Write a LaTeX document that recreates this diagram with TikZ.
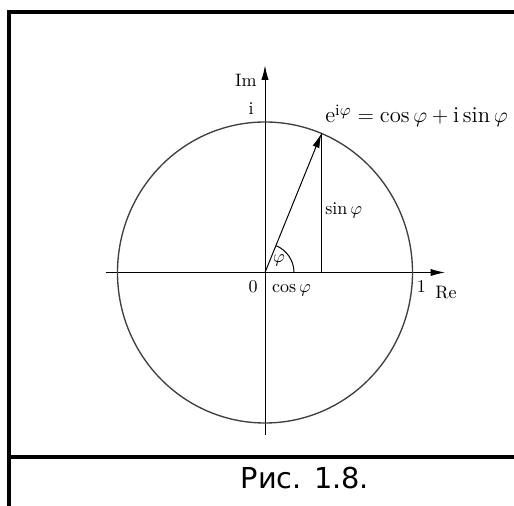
\documentclass[tikz,border=0pt]{standalone}
\usepackage{fontspec}
\newfontfamily\capfont{DejaVu Sans}
\usetikzlibrary{arrows.meta, positioning, calc}

\begin{document}
\begin{tikzpicture}[
    x=0.5556pt, y=0.5556pt,
    axis/.style={-{Latex[length=8pt, width=4pt]}, line width=0.55pt},
    vec/.style={-{Latex[length=8pt, width=4pt]}, line width=0.55pt},
    unitcircle/.style={draw=black!75, line width=0.75pt},
    frameline/.style={line width=1.7pt},
    lbl/.style={inner sep=0pt}
]
\useasboundingbox (-265,-233.5) rectangle (249,272.5);

% Frame and caption
\draw[frameline] (-256,-233.5) -- (-256,260.5) -- (249,260.5);
\draw[frameline] (-256,-184.5) -- (249,-184.5);
\node[anchor=base, font=\capfont\fontsize{16}{19}\selectfont] (caption) at (40,-215.8) {Рис. 1.8.};

% Axes
\coordinate (O) at (0,0);
\coordinate (xl) at (-159,0);
\coordinate (xr) at (180,0);
\coordinate (yb) at (0,-162.5);
\coordinate (yt) at (0,207);
\draw[axis] (xl) -- (xr);
\draw[axis] (yb) -- (yt);

% Unit circle
\draw[unitcircle] (O) ellipse [x radius=147.5, y radius=150.5];

% Vector, sine and angle
\coordinate (P) at (67.5:147.5 and 150.5);
\coordinate (Q) at (P |- O);
\draw[vec] (O) -- (P);
\draw[line width=0.55pt] (P) -- (Q);
\draw[line width=0.55pt] (O) ++(29,0) arc[start angle=0, end angle=67.5, radius=29];

% Labels
\node[lbl, anchor=base east] (im) at (-8,185.5) {$\mathrm{Im}$};
\node[lbl, anchor=base east] (iunit) at (-11,157.5) {$\mathrm{i}$};
\node[lbl, anchor=base west, font=\fontsize{12.6}{15}\selectfont] (euler) at (60,149.5) {$\mathrm{e}^{\mathrm{i}\varphi}=\cos\varphi+\mathrm{i}\sin\varphi$};
\node[lbl, anchor=base west] (sinphi) at (60,57.5) {$\sin\varphi$};
\node[lbl, anchor=base] (phi) at (14,9.5) {$\varphi$};
\node[lbl, anchor=base east] (zero) at (-7,-20.5) {$0$};
\node[lbl, anchor=base west] (cosphi) at (6.7,-20.5) {$\cos\varphi$};
\node[lbl, anchor=base west] (one) at (151.5,-20.5) {$1$};
\node[lbl, anchor=base west] (re) at (170,-25.8) {$\mathrm{Re}$};

\end{tikzpicture}
\end{document}
